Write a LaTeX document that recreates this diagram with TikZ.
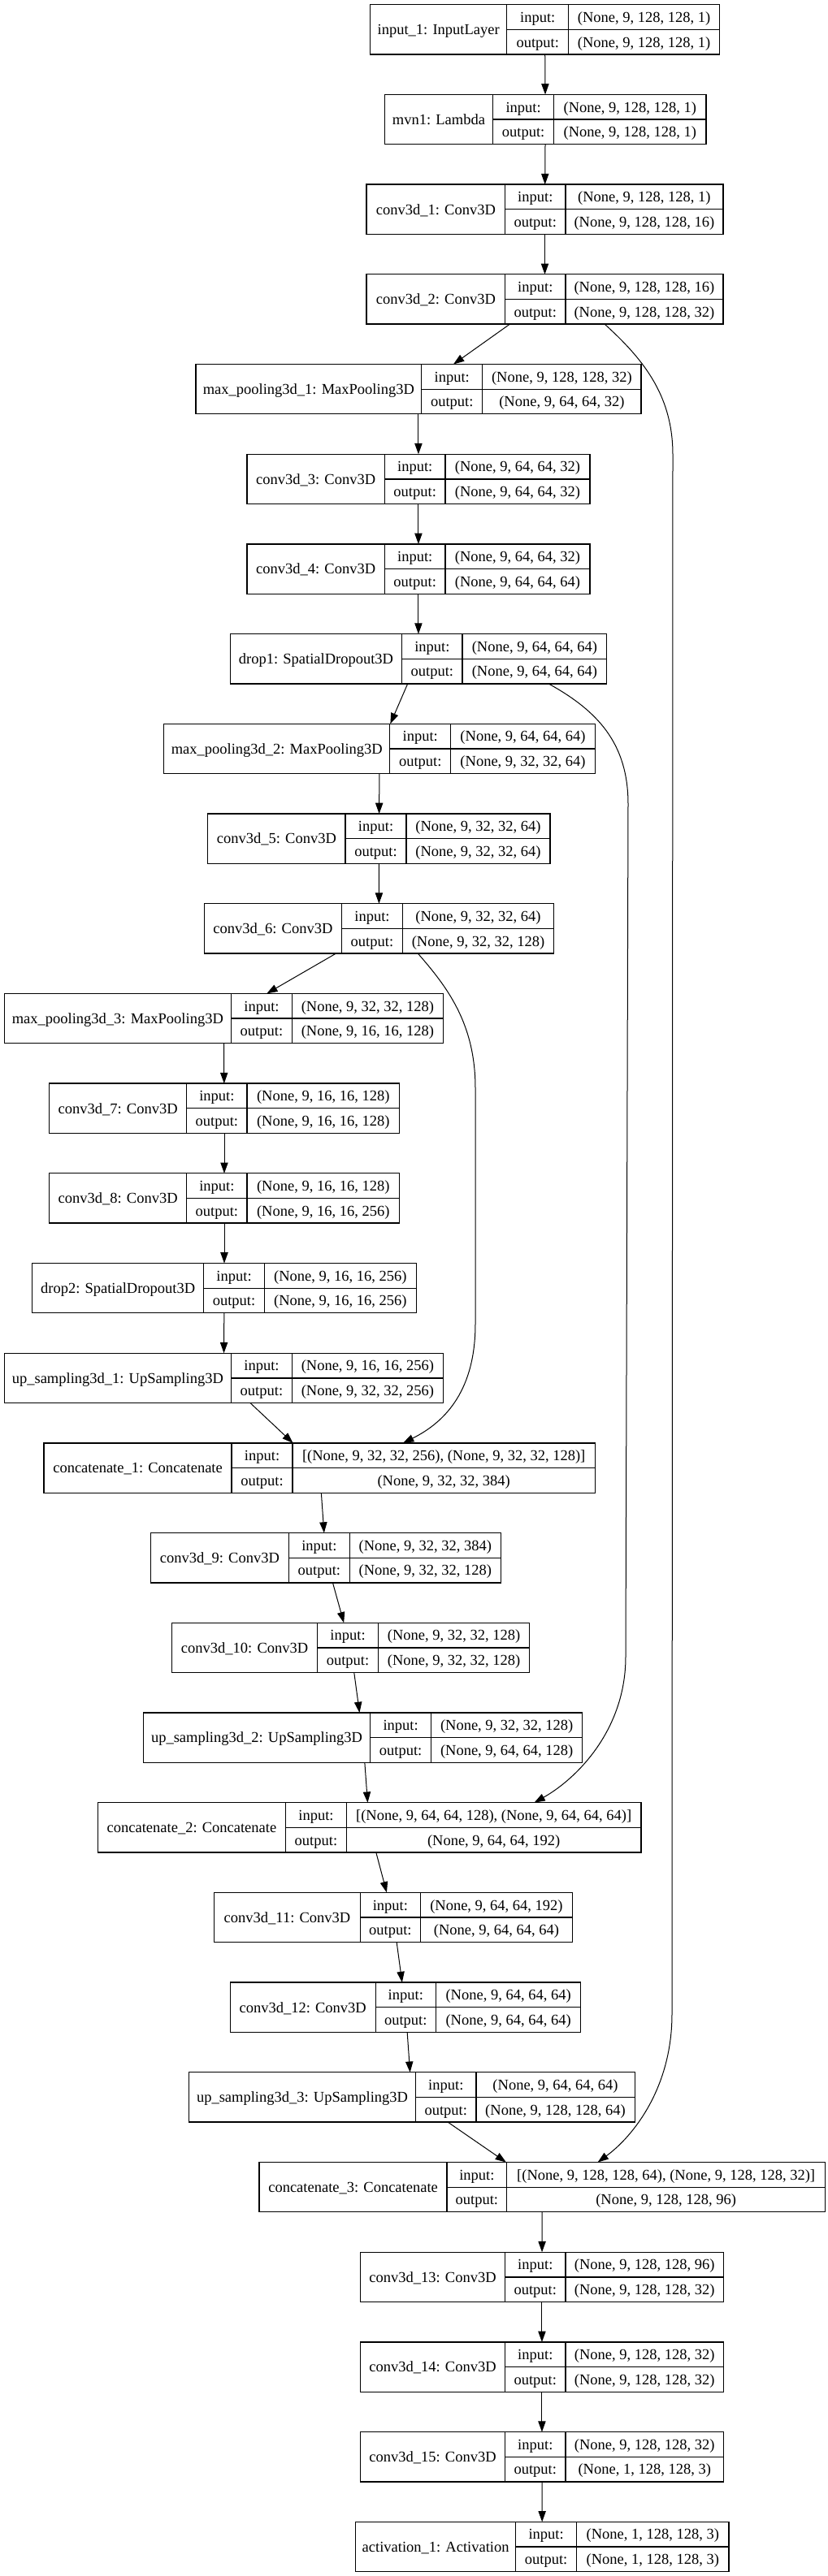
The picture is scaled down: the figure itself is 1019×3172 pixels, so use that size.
\documentclass[tikz,border=0pt]{standalone}
\usepackage{fontspec}
\setmainfont{Liberation Serif}
\usetikzlibrary{arrows.meta}
\tikzset{
  boxnode/.style={draw=black, line width=1.3pt, rectangle, inner sep=0pt, outer sep=0pt},
  boxline/.style={draw=black, line width=1.3pt},
  txt/.style={inner sep=0pt, outer sep=0pt, text height=12.6pt, text depth=0pt, font=\fontsize{18.5}{22}\selectfont},
  edge/.style={draw=black, line width=1pt, -{Triangle[length=13.3pt,width=9.3pt]}},
}
\newcommand{\mylayer}[9]{%
  \node[boxnode, anchor=north west, minimum width={(#5)-(#2)}, minimum height=61.3] (#1) at (#2,#6) {};
  \draw[boxline] (#3,#6) -- (#3,{#6+61.3});
  \draw[boxline] (#4,#6) -- (#4,{#6+61.3});
  \draw[boxline] (#3,{#6+30.65}) -- (#5,{#6+30.65});
  \node[txt] (#1-lab) at ({(#2+#3)/2},{#6+30.65}) {#7};
  \node[txt] (#1-inl) at ({(#3+#4)/2},{#6+15.3}) {input:};
  \node[txt] (#1-outl) at ({(#3+#4)/2},{#6+46}) {output:};
  \node[txt] (#1-inv) at ({(#4+#5)/2},{#6+15.3}) {#8};
  \node[txt] (#1-outv) at ({(#4+#5)/2},{#6+46}) {#9};
}
\begin{document}
\begin{tikzpicture}[x=1pt,y=-1pt]
\fill[white] (0,0) rectangle (1019,3172);
\useasboundingbox (0,0) rectangle (1019,3172);

\mylayer{in1}{455.7}{623.7}{699.8}{885.4}{5.7}{input\_1: InputLayer}{(None, 9, 128, 128, 1)}{(None, 9, 128, 128, 1)}
\mylayer{mvn1}{473.3}{606.7}{681.6}{869.1}{116.4}{mvn1: Lambda}{(None, 9, 128, 128, 1)}{(None, 9, 128, 128, 1)}
\mylayer{c1}{451.1}{621.7}{695.9}{889.9}{227.1}{conv3d\_1: Conv3D}{(None, 9, 128, 128, 1)}{(None, 9, 128, 128, 16)}
\mylayer{c2}{451.1}{621.7}{695.9}{889.9}{337.8}{conv3d\_2: Conv3D}{(None, 9, 128, 128, 16)}{(None, 9, 128, 128, 32)}
\mylayer{mp1}{240.9}{518.8}{593.7}{789}{448.5}{max\_pooling3d\_1: MaxPooling3D}{(None, 9, 128, 128, 32)}{(None, 9, 64, 64, 32)}
\mylayer{c3}{304}{473.3}{548.1}{725.9}{559.2}{conv3d\_3: Conv3D}{(None, 9, 64, 64, 32)}{(None, 9, 64, 64, 32)}
\mylayer{c4}{304}{473.3}{548.1}{725.9}{669.9}{conv3d\_4: Conv3D}{(None, 9, 64, 64, 32)}{(None, 9, 64, 64, 64)}
\mylayer{drop1}{283.2}{494.8}{569}{746.7}{780.6}{drop1: SpatialDropout3D}{(None, 9, 64, 64, 64)}{(None, 9, 64, 64, 64)}
\mylayer{mp2}{201.8}{479.8}{554.7}{732.4}{891.3}{max\_pooling3d\_2: MaxPooling3D}{(None, 9, 64, 64, 64)}{(None, 9, 32, 32, 64)}
\mylayer{c5}{255.8}{425.1}{500}{677}{1002.0}{conv3d\_5: Conv3D}{(None, 9, 32, 32, 64)}{(None, 9, 32, 32, 64)}
\mylayer{c6}{251.3}{420.5}{495.4}{681.6}{1112.7}{conv3d\_6: Conv3D}{(None, 9, 32, 32, 64)}{(None, 9, 32, 32, 128)}
\mylayer{mp3}{5.2}{284.5}{359.4}{545.5}{1223.4}{max\_pooling3d\_3: MaxPooling3D}{(None, 9, 32, 32, 128)}{(None, 9, 16, 16, 128)}
\mylayer{c7}{60.5}{229.8}{304}{491.5}{1334.1}{conv3d\_7: Conv3D}{(None, 9, 16, 16, 128)}{(None, 9, 16, 16, 128)}
\mylayer{c8}{60.5}{229.8}{304}{491.5}{1444.8}{conv3d\_8: Conv3D}{(None, 9, 16, 16, 128)}{(None, 9, 16, 16, 256)}
\mylayer{drop2}{39.7}{250.6}{325.5}{512.3}{1555.5}{drop2: SpatialDropout3D}{(None, 9, 16, 16, 256)}{(None, 9, 16, 16, 256)}
\mylayer{up1}{5.2}{284.5}{359.4}{545.5}{1666.2}{up\_sampling3d\_1: UpSampling3D}{(None, 9, 16, 16, 256)}{(None, 9, 32, 32, 256)}
\mylayer{cat1}{54}{285.1}{360}{732.4}{1776.9}{concatenate\_1: Concatenate}{[(None, 9, 32, 32, 256), (None, 9, 32, 32, 128)]}{(None, 9, 32, 32, 384)}
\mylayer{c9}{185.5}{355.4}{430.3}{616.5}{1887.6}{conv3d\_9: Conv3D}{(None, 9, 32, 32, 384)}{(None, 9, 32, 32, 128)}
\mylayer{c10}{211.6}{390.6}{465.5}{651.7}{1998.3}{conv3d\_10: Conv3D}{(None, 9, 32, 32, 128)}{(None, 9, 32, 32, 128)}
\mylayer{up2}{176.4}{455.7}{530.6}{716.8}{2109.0}{up\_sampling3d\_2: UpSampling3D}{(None, 9, 32, 32, 128)}{(None, 9, 64, 64, 128)}
\mylayer{cat2}{120.4}{351.5}{426.4}{789}{2219.7}{concatenate\_2: Concatenate}{[(None, 9, 64, 64, 128), (None, 9, 64, 64, 64)]}{(None, 9, 64, 64, 192)}
\mylayer{c11}{263.7}{443.3}{517.5}{704.4}{2330.4}{conv3d\_11: Conv3D}{(None, 9, 64, 64, 192)}{(None, 9, 64, 64, 64)}
\mylayer{c12}{283.2}{462.2}{536.4}{714.8}{2441.1}{conv3d\_12: Conv3D}{(None, 9, 64, 64, 64)}{(None, 9, 64, 64, 64)}
\mylayer{up3}{232.4}{511.7}{585.9}{781.2}{2551.8}{up\_sampling3d\_3: UpSampling3D}{(None, 9, 64, 64, 64)}{(None, 9, 128, 128, 64)}
\mylayer{cat3}{319}{550.1}{623.7}{1015.6}{2662.5}{concatenate\_3: Concatenate}{[(None, 9, 128, 128, 64), (None, 9, 128, 128, 32)]}{(None, 9, 128, 128, 96)}
\mylayer{c13}{443.3}{621.7}{695.9}{890.6}{2773.2}{conv3d\_13: Conv3D}{(None, 9, 128, 128, 96)}{(None, 9, 128, 128, 32)}
\mylayer{c14}{443.3}{621.7}{695.9}{890.6}{2883.9}{conv3d\_14: Conv3D}{(None, 9, 128, 128, 32)}{(None, 9, 128, 128, 32)}
\mylayer{c15}{443.3}{621.7}{695.9}{890.6}{2994.6}{conv3d\_15: Conv3D}{(None, 9, 128, 128, 32)}{(None, 1, 128, 128, 3)}
\mylayer{act}{437.5}{634.7}{709.6}{897}{3105.3}{activation\_1: Activation}{(None, 1, 128, 128, 3)}{(None, 1, 128, 128, 3)}

% straight connectors
\foreach \a/\b in {in1/mvn1, mvn1/c1, c1/c2, c2/mp1, mp1/c3, c3/c4, c4/drop1, drop1/mp2, mp2/c5, c5/c6, c6/mp3, mp3/c7, c7/c8, c8/drop2, drop2/up1, up1/cat1, cat1/c9, c9/c10, c10/up2, up2/cat2, cat2/c11, c11/c12, c12/up3, up3/cat3, cat3/c13, c13/c14, c14/c15, c15/act}
  \draw[edge] (\a) -- (\b);

% skip connectors
\draw[edge] ([xshift=293pt]c2.south west) .. controls (795,445) and (828,490) .. (828,560)
  -- (827,2480) .. controls (827,2570) and (780,2630) .. ([xshift=416.6pt]cat3.north west);
\draw[edge] ([xshift=391.9pt]drop1.south west) .. controls (735,875) and (773,915) .. (773,990)
  -- (770,2040) .. controls (770,2130) and (710,2190) .. ([xshift=537.1pt]cat2.north west);
\draw[edge] ([xshift=263pt]c6.south west) .. controls (550,1215) and (585,1260) .. (585,1340)
  -- (585,1630) .. controls (585,1710) and (550,1750) .. ([xshift=442pt]cat1.north west);
\end{tikzpicture}
\end{document}
